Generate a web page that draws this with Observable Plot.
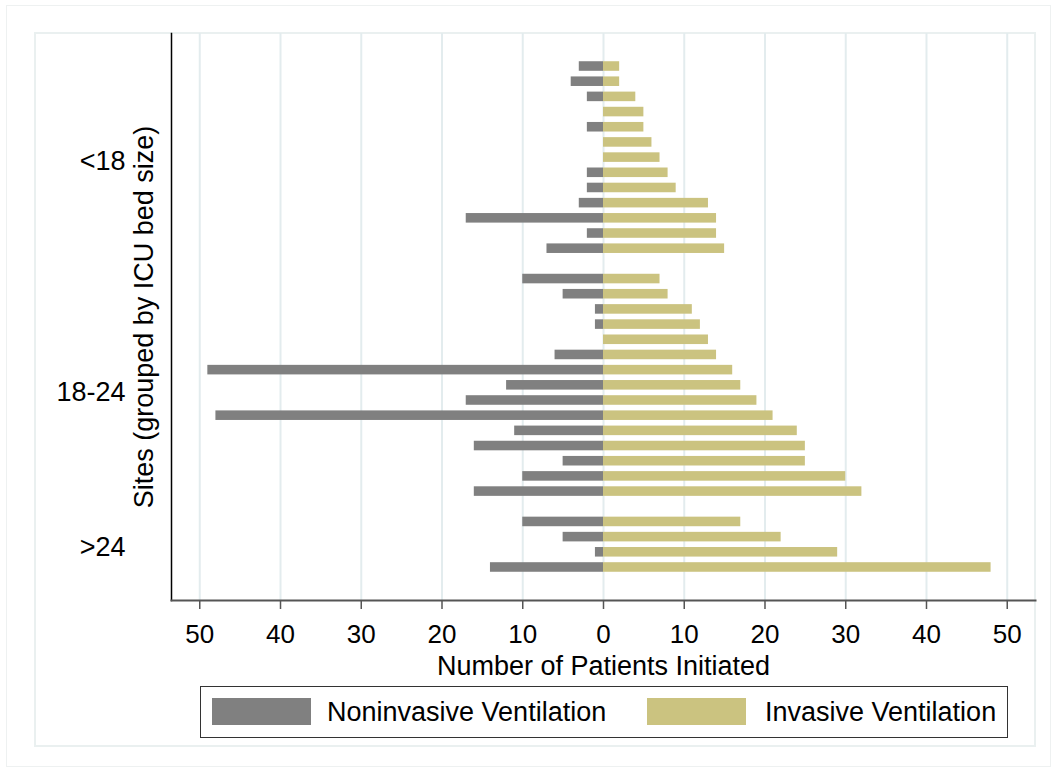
<!DOCTYPE html>
<html>
<head>
<meta charset="utf-8">
<script src="https://cdn.jsdelivr.net/npm/d3@7"></script>
<script src="https://cdn.jsdelivr.net/npm/@observablehq/plot@0.6"></script>
<style>
  html, body { margin: 0; padding: 0; background: #fff; }
  #page { position: relative; width: 1058px; height: 773px; overflow: hidden; font-family: "Liberation Sans", Arial, sans-serif; }
  #outer { position: absolute; left: 6px; top: 5px; width: 1045px; height: 762px; border: 1px solid #eef1f1; box-sizing: border-box; }
  #inner { position: absolute; left: 34px; top: 32px; width: 1002px; height: 715px; border: 2px solid #eaf0f0; box-sizing: border-box; }
  #chart { position: absolute; left: 0; top: 0; }
  #legend { position: absolute; left: 200px; top: 686px; width: 808px; height: 52px; border: 1px solid #333; box-sizing: border-box; background: #fff; }
  .sw { position: absolute; top: 11px; width: 99px; height: 27px; }
  .lt { position: absolute; top: 0; line-height: 50px; font-size: 27px; color: #000; white-space: nowrap; }
</style>
</head>
<body>
<div id="page">
  <div id="outer"></div>
  <div id="inner"></div>
  <div id="chart"></div>
  <div id="legend"></div>
</div>
<script>
// ---- data ----
const groupNames = ["<18", "18-24", ">24"];
const nivLt18 = [3, 4, 2, 0, 2, 0, 0, 2, 2, 3, 17, 2, 7];
const ivLt18  = [2, 2, 4, 5, 5, 6, 7, 8, 9, 13, 14, 14, 15];
const niv18to24 = [10, 5, 1, 1, 0, 6, 49, 12, 17, 48, 11, 16, 5, 10, 16];
const iv18to24  = [7, 8, 11, 12, 13, 14, 16, 17, 19, 21, 24, 25, 25, 30, 32];
const nivGt24 = [10, 5, 1, 14];
const ivGt24  = [17, 22, 29, 48];
const seriesNames = ["Noninvasive Ventilation", "Invasive Ventilation"];
const seriesColors = ["#808080", "#cbc380"];
const xTicks = [-50, -40, -30, -20, -10, 0, 10, 20, 30, 40, 50];
const xDomain = [-53.5, 53.5];
const xTitle = "Number of Patients Initiated";
const yTitle = "Sites (grouped by ICU bed size)";

// ---- build table ----
const groupData = [[nivLt18, ivLt18], [niv18to24, iv18to24], [nivGt24, ivGt24]];
const rows = [];
const slots = [];
const groupSlots = [];
groupData.forEach(([niv, iv], g) => {
  const ids = [];
  niv.forEach((v, i) => {
    const slot = `g${g}-${i}`;
    slots.push(slot);
    ids.push(slot);
    rows.push({slot, group: groupNames[g], niv: v, iv: iv[i]});
  });
  groupSlots.push(ids);
  if (g < groupData.length - 1) slots.push(`gap${g}`);
});
const midSlot = (ids) => ids[Math.floor((ids.length - 1) / 2)];

const font = '"Liberation Sans", Arial, sans-serif';
const big = 27;
const chart = Plot.plot({
  width: 1058,
  height: 690,
  marginLeft: 171,
  marginRight: 23,
  marginTop: 33,
  marginBottom: 90,
  style: {fontFamily: font, fontSize: "26px", color: "#000", background: "transparent", overflow: "visible"},
  x: {domain: xDomain},
  y: {domain: slots, paddingInner: 0.37, paddingOuter: 1.86, round: false, axis: null},
  marks: [
    Plot.gridX(xTicks, {stroke: "#e3ecee", strokeOpacity: 1, strokeWidth: 2}),
    Plot.barX(rows, {y: "slot", x: d => -d.niv, fill: seriesColors[0]}),
    Plot.barX(rows, {y: "slot", x: "iv", fill: seriesColors[1]}),
    Plot.frame({anchor: "left", stroke: "#000", strokeWidth: 1.5}),
    Plot.frame({anchor: "bottom", stroke: "#555", strokeWidth: 2}),
    Plot.axisX(xTicks, {tickSize: 9, tickPadding: 15, stroke: "#555", strokeWidth: 1.5, tickFormat: d => Math.abs(d), label: null, fill: "#000"}),
    Plot.text([xTitle], {text: d => d, frameAnchor: "bottom", lineAnchor: "middle", textAnchor: "middle", dy: 66, fontSize: big, fill: "#000"}),
    Plot.text([yTitle], {text: d => d, frameAnchor: "left", textAnchor: "middle", lineAnchor: "middle", rotate: -90, dx: -27, fontSize: big, fill: "#000"}),
    Plot.text([{slot: midSlot(groupSlots[0]), label: groupNames[0]}], {y: "slot", text: "label", frameAnchor: "left", textAnchor: "end", dx: -46, dy: 4, fontSize: big, fill: "#000"}),
    Plot.text([{slot: midSlot(groupSlots[1]), label: groupNames[1]}], {y: "slot", text: "label", frameAnchor: "left", textAnchor: "end", dx: -46, dy: 7, fontSize: big, fill: "#000"}),
    Plot.text([{slot: midSlot(groupSlots[2]), label: groupNames[2]}], {y: "slot", text: "label", frameAnchor: "left", textAnchor: "end", dx: -46, dy: 10, fontSize: big, fill: "#000"})
  ]
});
document.getElementById("chart").appendChild(chart);

// ---- legend ----
const legend = document.getElementById("legend");
const swLeft = [11, 446];
const txLeft = [126, 564];
seriesNames.forEach((name, i) => {
  const sw = document.createElement("div");
  sw.className = "sw";
  sw.style.left = swLeft[i] + "px";
  sw.style.background = seriesColors[i];
  legend.appendChild(sw);
  const t = document.createElement("div");
  t.className = "lt";
  t.style.left = txLeft[i] + "px";
  t.textContent = name;
  legend.appendChild(t);
});
</script>
</body>
</html>
